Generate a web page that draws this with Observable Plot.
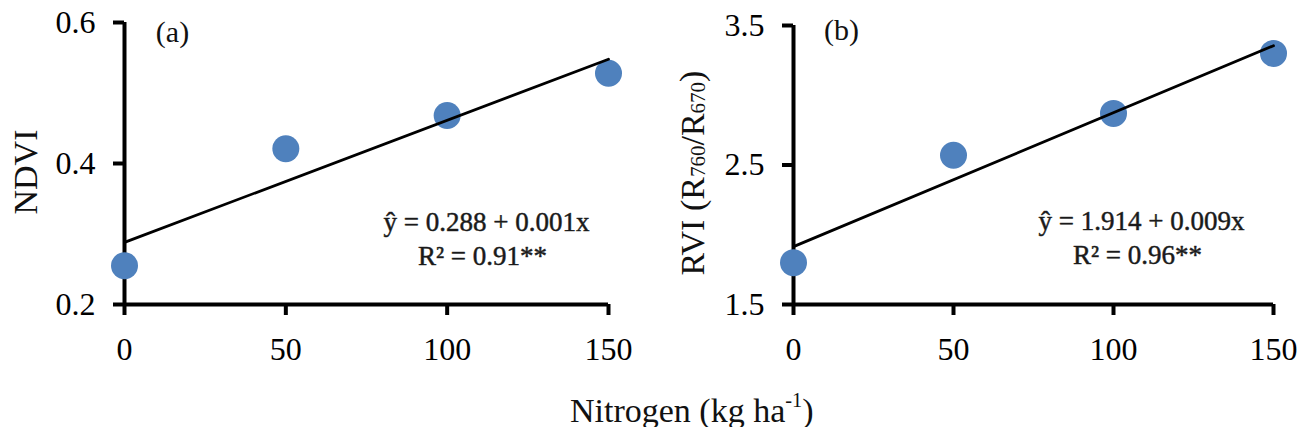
<!DOCTYPE html>
<html>
<head>
<meta charset="utf-8">
<script src="https://cdn.jsdelivr.net/npm/d3@7"></script>
<script src="https://cdn.jsdelivr.net/npm/@observablehq/plot@0.6"></script>
<style>
  html, body { margin: 0; padding: 0; background: #fff; }
  #chart { position: relative; width: 1309px; height: 427px; font-family: "Liberation Serif", serif; }
  #panel-a, #panel-b { position: absolute; top: 0; }
  #panel-a { left: 0; }
  #panel-b { left: 655px; }
  #xtitle { position: absolute; left: 570px; top: 394px; font-size: 34px; line-height: 34px; color: #111; white-space: nowrap; }
  #xtitle .sup { font-size: 0.6em; position: relative; top: -0.75em; }
</style>
</head>
<body>
<div id="chart">
  <div id="panel-a"></div>
  <div id="panel-b"></div>
  <div id="xtitle">Nitrogen (kg ha<span class="sup">-1</span>)</div>
</div>
<script>
// Nitrogen rates (kg/ha) and the two vegetation indices measured at each rate
const nitrogen = [0, 50, 100, 150];
const ndvi = [0.255, 0.421, 0.468, 0.528];
const rvi = [1.80, 2.57, 2.87, 3.30];

// Axis ticks
const nitrogenTicks = [0, 50, 100, 150];
const ndviTicks = [0.2, 0.4, 0.6];
const rviTicks = [1.5, 2.5, 3.5];

// Panel tags and fitted-equation labels
const panelTags = ["(a)", "(b)"];
const ndviFit = ["ŷ = 0.288 + 0.001x", "R² = 0.91**"];
const rviFit = ["ŷ = 1.914 + 0.009x", "R² = 0.96**"];

const dotColor = "#4F81BD";
const axisWidth = 4;

function panel({values, yTicks, tag, fit, width, marginLeft, marginRight, marginTop, tagPos, fitPos}) {
  const rows = nitrogen.map((n, i) => ({n, v: values[i]}));
  const yDomain = [yTicks[0], yTicks[yTicks.length - 1]];
  return Plot.plot({
    width,
    height: 372,
    marginLeft,
    marginRight,
    marginTop,
    marginBottom: 68,
    style: {fontFamily: "Liberation Serif, serif", background: "white", color: "#000"},
    x: {domain: [0, 150], label: null},
    y: {domain: yDomain, label: null},
    marks: [
      Plot.axisX({ticks: nitrogenTicks, tickSize: 11, tickPadding: 22, fontSize: 32, strokeWidth: axisWidth, label: null}),
      Plot.axisY({ticks: yTicks, tickSize: 11, tickPadding: 18, fontSize: 32, strokeWidth: axisWidth, tickFormat: d3.format(".1f"), label: null}),
      Plot.ruleX([0], {stroke: "black", strokeWidth: axisWidth}),
      Plot.ruleY([yDomain[0]], {stroke: "black", strokeWidth: axisWidth}),
      Plot.dot(rows, {x: "n", y: "v", r: 13.5, fill: dotColor, stroke: null}),
      Plot.linearRegressionY(rows, {x: "n", y: "v", ci: 0, stroke: "black", strokeWidth: 2.8}),
      Plot.text([tag], {frameAnchor: "top-left", dx: tagPos[0], dy: tagPos[1], fontSize: 30, textAnchor: "middle", lineAnchor: "middle", fill: "#111"}),
      Plot.text([fit[0]], {frameAnchor: "top-left", dx: fitPos[0], dy: fitPos[1], fontSize: 27, textAnchor: "middle", lineAnchor: "middle", fill: "#1a1a1a", stroke: "#333", strokeWidth: 0.5}),
      Plot.text([fit[1]], {frameAnchor: "top-left", dx: fitPos[0] - 4, dy: fitPos[1] + 34, fontSize: 27, textAnchor: "middle", lineAnchor: "middle", fill: "#1a1a1a", stroke: "#333", strokeWidth: 0.5})
    ]
  });
}

// Rotated y-axis title built from (text, isSubscript) pieces
function yTitle(svg, x, y, parts) {
  const t = d3.select(svg).append("text")
    .attr("transform", `translate(${x},${y}) rotate(-90)`)
    .attr("text-anchor", "middle")
    .attr("dominant-baseline", "central")
    .attr("font-family", "Liberation Serif, serif")
    .attr("font-size", 34)
    .attr("fill", "#111");
  let prevSub = false;
  for (const [text, sub] of parts) {
    const s = t.append("tspan").text(text);
    if (sub && !prevSub) s.attr("font-size", 21).attr("dy", "0.3em");
    else if (!sub && prevSub) s.attr("dy", "-0.2em");
    prevSub = sub;
  }
}

const a = panel({
  values: ndvi, yTicks: ndviTicks, tag: panelTags[0], fit: ndviFit,
  width: 655, marginLeft: 124, marginRight: 47, marginTop: 22,
  tagPos: [48, 10], fitPos: [362, 200]
});
yTitle(a, 25, 172, [["NDVI", false]]);
document.getElementById("panel-a").append(a);

const b = panel({
  values: rvi, yTicks: rviTicks, tag: panelTags[1], fit: rviFit,
  width: 654, marginLeft: 138, marginRight: 36, marginTop: 25,
  tagPos: [48, 5], fitPos: [348, 196]
});
yTitle(b, 37, 173, [["RVI (R", false], ["760", true], ["/R", false], ["670", true], [")", false]]);
document.getElementById("panel-b").append(b);
</script>
</body>
</html>
